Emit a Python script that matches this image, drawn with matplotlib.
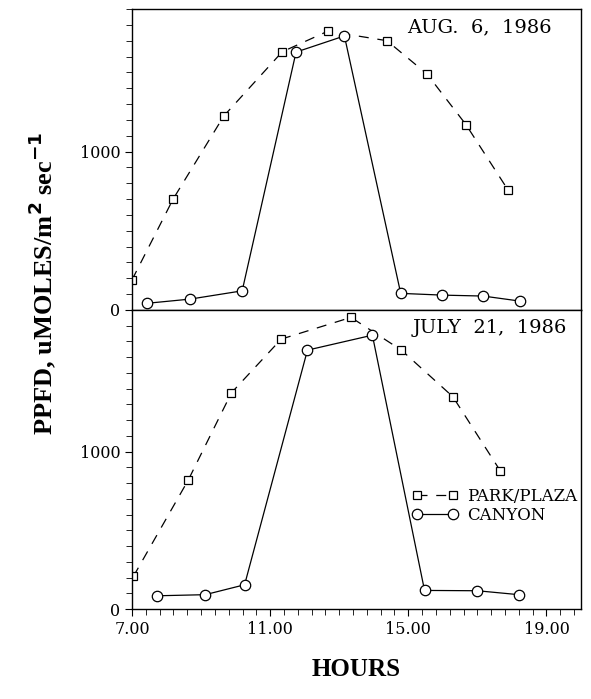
import numpy as np
import matplotlib
matplotlib.use('Agg')
import matplotlib.pyplot as plt
from matplotlib.ticker import MultipleLocator, FixedLocator

# Aug. 6, 1986
aug_park_h = [7.0, 8.19, 9.66, 11.35, 12.67, 14.38, 15.54, 16.67, 17.88]
aug_park = [190, 700, 1225, 1630, 1760, 1700, 1490, 1170, 760]
aug_canyon_h = [7.42, 8.69, 10.19, 11.75, 13.15, 14.78, 15.98, 17.17, 18.24]
aug_canyon = [42, 69, 121, 1628, 1730, 105, 94, 88, 56]

# July 21, 1986
jul_park_h = [7.04, 8.63, 9.88, 11.32, 13.34, 14.80, 16.29, 17.66]
jul_park = [207, 820, 1374, 1715, 1853, 1645, 1349, 879]
jul_canyon_h = [7.73, 9.12, 10.26, 12.08, 13.96, 15.47, 17.0, 18.2]
jul_canyon = [84, 91, 154, 1645, 1740, 118, 116, 91]

xticks = [7, 11, 15, 19]
xticklabels = ['7.00', '11.00', '15.00', '19.00']

plt.rcParams['font.family'] = 'DejaVu Serif'

fig = plt.figure(figsize=(5.91, 6.99), dpi=100)
L, R = 132/591, 581/591
ax1 = fig.add_axes([L, 1-310/699, R-L, 301/699])
ax2 = fig.add_axes([L, 1-609/699, R-L, 299/699])

def panel(ax, ph, pv, ch, cv, title, tx):
    ax.plot(ph, pv, color='k', lw=0.9, ls=(0, (8, 7)), marker='s', ms=6,
            mfc='white', mec='k', mew=0.9, label='PARK/PLAZA')
    ax.plot(ch, cv, color='k', lw=0.9, ls='-', marker='o', ms=7.5,
            mfc='white', mec='k', mew=0.9, label='CANYON')
    ax.set_xlim(7, 20)
    ax.set_ylim(0, 1900)
    ax.set_yticks([0, 1000])
    ax.yaxis.set_minor_locator(MultipleLocator(100))
    ax.set_xticks(xticks)
    ax.xaxis.set_minor_locator(FixedLocator(np.arange(7, 20, 0.4)))
    ax.tick_params(direction='out', which='both', labelsize=11.5)
    ax.tick_params(which='major', length=5)
    ax.tick_params(which='minor', length=4)
    ax.text(tx, 0.97, title, transform=ax.transAxes, ha='right', va='top',
            fontsize=14)
    for s in ax.spines.values():
        s.set_linewidth(1.0)

panel(ax1, aug_park_h, aug_park, aug_canyon_h, aug_canyon, 'AUG.  6,  1986', 0.935)
panel(ax2, jul_park_h, jul_park, jul_canyon_h, jul_canyon, 'JULY  21,  1986', 0.968)

ax1.set_xticklabels([])
ax1.tick_params(axis='x', which='both', length=0)
ax2.set_xticklabels(xticklabels)

ax2.legend(loc='upper left', bbox_to_anchor=(0.6236, 0.405), frameon=False,
           numpoints=2, handlelength=2.76, handletextpad=0.54, labelspacing=0.1,
           borderpad=0, borderaxespad=0, fontsize=12)

fig.text(42/591, 1-283/699, 'PPFD, uMOLES/m$^\\mathbf{2}$ sec$^\\mathbf{-1}$',
         rotation=90, ha='center', va='center', fontsize=19, fontweight='bold',
         family='Liberation Serif')
fig.text(356/591, 1-670/699, 'HOURS', ha='center', va='center', fontsize=18,
         fontweight='bold', family='Liberation Serif')

fig.savefig('out.png', dpi=100)
